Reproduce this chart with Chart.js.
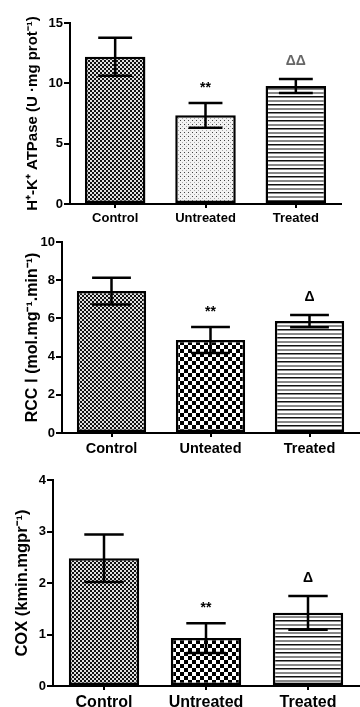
<!DOCTYPE html>
<html>
<head>
<meta charset="utf-8">
<script src="https://cdn.jsdelivr.net/npm/chart.js@4.4.1/dist/chart.umd.min.js"></script>
<style>
  body { margin: 0; background: #fff; }
  canvas { display: block; }
</style>
</head>
<body>
<canvas id="atpaseChart" width="360" height="225"></canvas>
<canvas id="rccChart" width="360" height="235"></canvas>
<canvas id="coxChart" width="360" height="247"></canvas>
<script>
'use strict';
// values (mean and +/- error)
const atpaseLabels = ['Control', 'Untreated', 'Treated'];
const atpaseMean = [12.2, 7.35, 9.78];
const atpaseErr = [1.58, 1.03, 0.58];
const atpaseMarks = ['', '**', 'ΔΔ'];

const rccLabels = ['Control', 'Unteated', 'Treated'];
const rccMean = [7.43, 4.87, 5.86];
const rccErr = [0.7, 0.68, 0.32];
const rccMarks = ['', '**', 'Δ'];

const coxLabels = ['Control', 'Untreated', 'Treated'];
const coxMean = [2.48, 0.93, 1.42];
const coxErr = [0.46, 0.29, 0.33];
const coxMarks = ['', '**', 'Δ'];

const FONT = "'Liberation Sans', Arial, sans-serif";

// small tiled fills to mimic the hatched bars
function makePattern(size, draw) {
    const c = document.createElement('canvas');
    c.width = size;
    c.height = size;
    const g = c.getContext('2d');
    draw(g, size);
    return g.createPattern(c, 'repeat');
}

function checker(cell, dark, light) {
    return makePattern(cell * 2, (g) => {
        g.fillStyle = light;
        g.fillRect(0, 0, cell * 2, cell * 2);
        g.fillStyle = dark;
        g.fillRect(0, 0, cell, cell);
        g.fillRect(cell, cell, cell, cell);
    });
}

const densePattern = checker(2, '#111', '#e0e0e0');
const dotPattern = makePattern(4, (g) => {
    g.fillStyle = '#f2f2f2';
    g.fillRect(0, 0, 4, 4);
    g.fillStyle = '#444';
    g.fillRect(0, 0, 1, 1);
    g.fillStyle = '#aaa';
    g.fillRect(2, 2, 1, 1);
});
const coarsePattern = checker(4, '#000', '#fff');
const linePattern = makePattern(8, (g) => {
    g.fillStyle = '#fff';
    g.fillRect(0, 0, 8, 8);
    g.fillStyle = '#111';
    g.fillRect(0, 0, 8, 1.5);
    g.fillStyle = '#888';
    g.fillRect(0, 4, 8, 2);
});

// error bars + significance marks
const errorBarPlugin = {
    id: 'errorBars',
    afterDatasetsDraw(chart) {
        const ctx = chart.ctx;
        const y = chart.scales.y;
        const ds = chart.data.datasets[0];
        const meta = chart.getDatasetMeta(0);
        ctx.save();
        meta.data.forEach((bar, i) => {
            const hi = y.getPixelForValue(ds.data[i] + ds.errors[i]);
            const lo = y.getPixelForValue(ds.data[i] - ds.errors[i]);
            const cap = bar.width * 0.28;
            ctx.strokeStyle = '#000';
            ctx.lineWidth = 2.5;
            ctx.beginPath();
            ctx.moveTo(bar.x, hi);
            ctx.lineTo(bar.x, lo);
            ctx.moveTo(bar.x - cap, hi);
            ctx.lineTo(bar.x + cap, hi);
            ctx.moveTo(bar.x - cap, lo);
            ctx.lineTo(bar.x + cap, lo);
            ctx.stroke();
            const mark = ds.marks[i];
            if (mark) {
                ctx.fillStyle = mark.startsWith('Δ') ? ds.deltaColor : '#000';
                ctx.font = 'bold 14px ' + FONT;
                ctx.textAlign = 'center';
                ctx.textBaseline = 'middle';
                ctx.fillText(mark, bar.x, hi - (mark === '**' ? 15 : 18));
            }
        });
        ctx.restore();
    }
};

function makeChart(id, cfg) {
    const canvas = document.getElementById(id);
    const H = canvas.height;
    return new Chart(canvas.getContext('2d'), {
        type: 'bar',
        data: {
            labels: cfg.labels,
            datasets: [{
                data: cfg.mean,
                errors: cfg.err,
                marks: cfg.marks,
                deltaColor: cfg.deltaColor,
                backgroundColor: cfg.fills,
                borderColor: '#000',
                borderWidth: 2.5,
                borderSkipped: false,
                categoryPercentage: 1,
                barPercentage: cfg.barPct
            }]
        },
        options: {
            responsive: false,
            animation: false,
            layout: { padding: { top: cfg.top, right: 360 - cfg.right, left: 0, bottom: 0 } },
            plugins: { legend: { display: false }, tooltip: { enabled: false } },
            scales: {
                x: {
                    afterFit: (s) => { s.height = H - cfg.bottom; },
                    border: { color: '#000', width: 2 },
                    grid: { offset: false, drawOnChartArea: false, color: '#000', lineWidth: 2, tickLength: 4 },
                    ticks: { color: '#000', padding: 3, font: { family: FONT, weight: 'bold', size: cfg.xFont } }
                },
                y: {
                    min: 0,
                    max: cfg.max,
                    afterFit: (s) => { s.width = cfg.left; },
                    border: { color: '#000', width: 2 },
                    grid: { drawOnChartArea: false, color: '#000', lineWidth: 2, tickLength: 6 },
                    ticks: { stepSize: cfg.step, color: '#000', padding: 1, font: { family: FONT, weight: 'bold', size: 13 } },
                    title: {
                        display: true,
                        text: cfg.title,
                        color: '#000',
                        padding: { top: cfg.titlePad, bottom: 0 },
                        font: { family: FONT, weight: 'bold', size: cfg.titleFont }
                    }
                }
            }
        },
        plugins: [errorBarPlugin]
    });
}

makeChart('atpaseChart', {
    labels: atpaseLabels, mean: atpaseMean, err: atpaseErr, marks: atpaseMarks,
    fills: [densePattern, dotPattern, linePattern], deltaColor: '#666',
    max: 15, step: 5, barPct: 0.67,
    left: 70, right: 341, top: 23, bottom: 204,
    title: 'H⁺-K⁺ ATPase (U ·mg prot⁻¹)', titleFont: 15, titlePad: 24, xFont: 13
});

makeChart('rccChart', {
    labels: rccLabels, mean: rccMean, err: rccErr, marks: rccMarks,
    fills: [densePattern, coarsePattern, linePattern], deltaColor: '#000',
    max: 10, step: 2, barPct: 0.7,
    left: 62, right: 359, top: 17, bottom: 208,
    title: 'RCC Ⅰ (mol.mg⁻¹.min⁻¹)', titleFont: 16, titlePad: 23, xFont: 14.5
});

makeChart('coxChart', {
    labels: coxLabels, mean: coxMean, err: coxErr, marks: coxMarks,
    fills: [densePattern, coarsePattern, linePattern], deltaColor: '#000',
    max: 4, step: 1, barPct: 0.69,
    left: 53, right: 359, top: 20, bottom: 226,
    title: 'COX (kmin.mgpr⁻¹)', titleFont: 16.5, titlePad: 13, xFont: 16
});
</script>
</body>
</html>
